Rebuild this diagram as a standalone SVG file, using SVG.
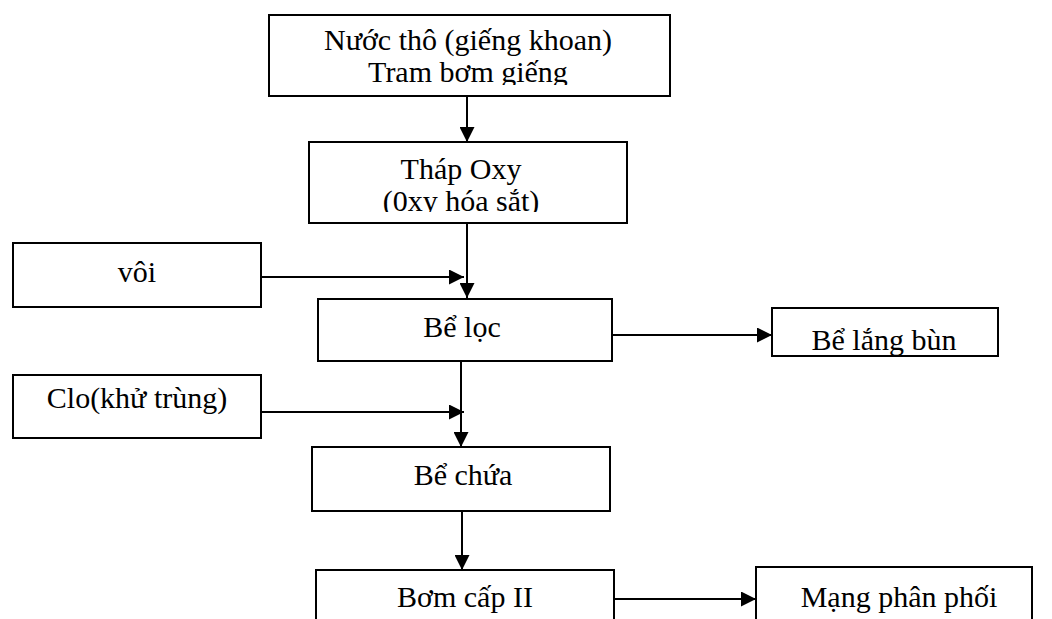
<svg xmlns="http://www.w3.org/2000/svg" width="1052" height="619" viewBox="0 0 1052 619">
  <style>
    .box { fill: #ffffff; stroke: #000000; stroke-width: 2; }
    .lbl { font-family: "Liberation Serif", "Times New Roman", serif; font-size: 30px; fill: #000000; text-anchor: middle; }
    .conn { fill: none; stroke: #000000; stroke-width: 2; marker-end: url(#arrow); }
  </style>
  <defs>
    <marker id="arrow" markerUnits="userSpaceOnUse" markerWidth="15" markerHeight="15" refX="15" refY="7.5" orient="auto">
      <path d="M0,0 L15,7.5 L0,15 Z" fill="#000000"/>
    </marker>
    <clipPath id="clip-src"><rect x="270" y="16" width="399" height="69"/></clipPath>
    <clipPath id="clip-oxy"><rect x="310" y="143" width="316" height="69"/></clipPath>
    <clipPath id="clip-lang"><rect x="773" y="309" width="224" height="46"/></clipPath>
  </defs>

  <rect width="1052" height="619" fill="#ffffff"/>

  <g id="connectors">
    <line class="conn" x1="467" y1="96" x2="467" y2="142"/>
    <line class="conn" x1="467" y1="223" x2="467" y2="298"/>
    <line class="conn" x1="261" y1="277" x2="464" y2="277"/>
    <line class="conn" x1="612" y1="335" x2="772" y2="335"/>
    <line class="conn" x1="461" y1="361" x2="461" y2="447"/>
    <line class="conn" x1="261" y1="412" x2="464" y2="412"/>
    <line class="conn" x1="462" y1="511" x2="462" y2="570"/>
    <line class="conn" x1="614" y1="599" x2="756" y2="599"/>
  </g>

  <g id="nuoc-tho">
    <rect class="box" x="269" y="15" width="401" height="81"/>
    <g clip-path="url(#clip-src)">
      <text class="lbl" x="468" y="50">Nước thô (giếng khoan)</text>
      <text class="lbl" x="468" y="82">Tram bơm giếng</text>
    </g>
  </g>

  <g id="thap-oxy">
    <rect class="box" x="309" y="142" width="318" height="81"/>
    <g clip-path="url(#clip-oxy)">
      <text class="lbl" x="461" y="179">Tháp Oxy</text>
      <text class="lbl" x="461" y="211">(0xy hóa sắt)</text>
    </g>
  </g>

  <g id="voi">
    <rect class="box" x="13" y="243" width="248" height="64"/>
    <text class="lbl" x="137" y="282">vôi</text>
  </g>

  <g id="be-loc">
    <rect class="box" x="318" y="299" width="294" height="62"/>
    <text class="lbl" x="462" y="337">Bể lọc</text>
  </g>

  <g id="be-lang-bun">
    <rect class="box" x="772" y="308" width="226" height="48"/>
    <g clip-path="url(#clip-lang)">
      <text class="lbl" x="884" y="350">Bể lắng bùn</text>
    </g>
  </g>

  <g id="clo">
    <rect class="box" x="13" y="375" width="248" height="63"/>
    <text class="lbl" x="137" y="408">Clo(khử trùng)</text>
  </g>

  <g id="be-chua">
    <rect class="box" x="312" y="447" width="298" height="64"/>
    <text class="lbl" x="463" y="485">Bể chứa</text>
  </g>

  <g id="bom-cap-2">
    <rect class="box" x="316" y="570" width="298" height="70"/>
    <text class="lbl" x="465" y="607">Bơm cấp II</text>
  </g>

  <g id="mang-phan-phoi">
    <rect class="box" x="756" y="567" width="276" height="73"/>
    <text class="lbl" x="899" y="607">Mạng phân phối</text>
  </g>
</svg>
